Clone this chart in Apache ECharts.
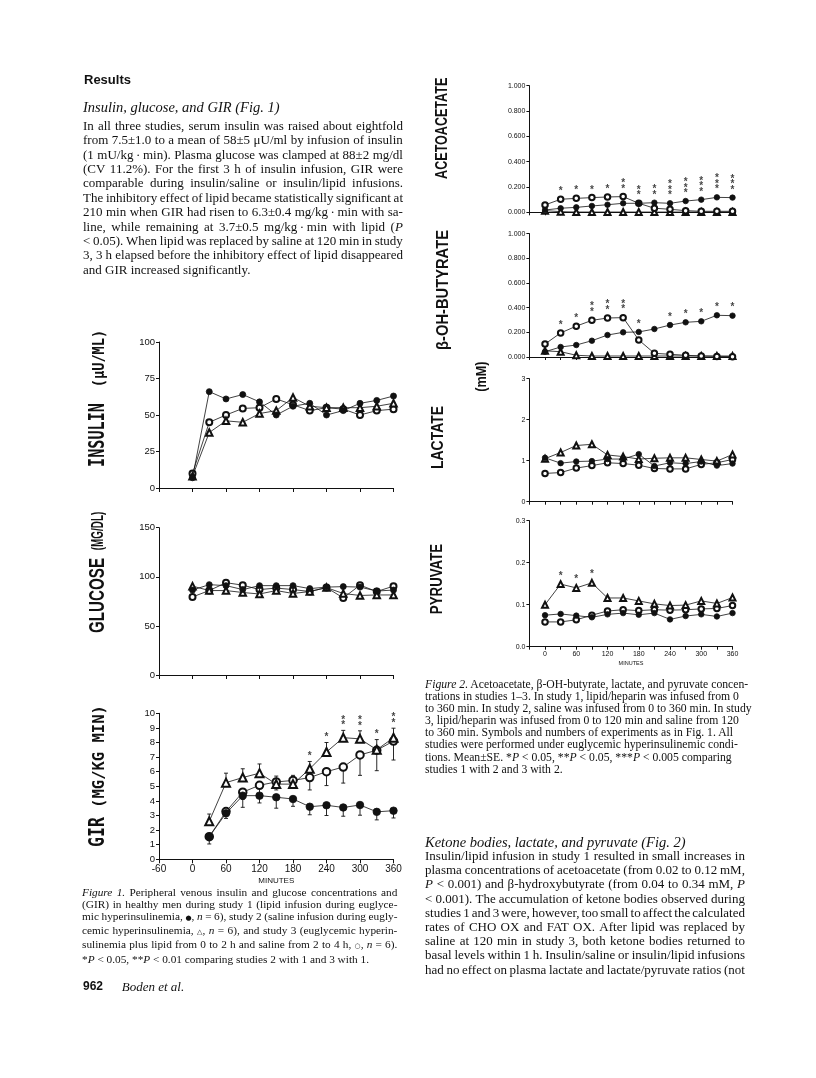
<!DOCTYPE html>
<html>
<head>
<meta charset="utf-8">
<script src="https://cdn.jsdelivr.net/npm/echarts@6/dist/echarts.min.js"></script>
<style>
  html, body { margin: 0; padding: 0; background: #fff; }
  body { width: 816px; height: 1078px; position: relative; overflow: hidden; }
  #chart { position: absolute; left: 0; top: 0; width: 816px; height: 1078px; }
  .blk { position: absolute; font-family: "Liberation Serif", "Times New Roman", serif; color: #111; }
  .ln { display: flex; justify-content: space-between; white-space: nowrap; }
  .ln.rag { display: block; }
  sym { font-family: "DejaVu Sans", sans-serif; font-size: 7px; }
</style>
</head>
<body>
<div id="chart"></div>

<div class="blk" id="results" style="left:84px;top:72px;font:bold 13px 'Liberation Sans',Arial,sans-serif;line-height:15px;">Results</div>
<div class="blk" id="h1" style="left:83px;top:99px;font-size:14.5px;font-style:italic;line-height:16px;">Insulin, glucose, and GIR (Fig. 1)</div>
<div class="blk" id="p1" style="left:83px;top:118.8px;width:320px;font-size:13px;line-height:14.4px;"></div>
<div class="blk" id="cap1" style="left:82px;top:885.6px;width:315.5px;font-size:11.3px;line-height:12.2px;"></div>
<div class="blk" style="left:83px;top:979px;font:bold 12px 'Liberation Sans',Arial,sans-serif;line-height:15px;">962</div>
<div class="blk" style="left:121.7px;top:979px;font-size:13px;font-style:italic;line-height:15px;">Boden et al.</div>

<div class="blk" id="cap2" style="left:425px;top:679px;width:340px;font-size:11.7px;line-height:12.1px;"></div>
<div class="blk" id="h2" style="left:425px;top:834.3px;font-size:14.5px;font-style:italic;line-height:16px;">Ketone bodies, lactate, and pyruvate (Fig. 2)</div>
<div class="blk" id="p2" style="left:425px;top:848.9px;width:320px;font-size:13px;line-height:14.2px;"></div>

<script>
// ---- Figure 1 data (study 1 = lipid ●, study 2 = saline △, study 3 = lipid then saline ○)
const fig1Times = [0, 30, 60, 90, 120, 150, 180, 210, 240, 270, 300, 330, 360];
const insulinLipid  = [7, 66, 61, 64, 59, 50, 56, 58, 50, 53, 58, 60, 63];
const insulinSaline = [8, 38, 46, 45, 51, 53, 62, 56, 55, 55, 55, 56, 58];
const insulinMixed  = [10, 45, 50, 54.5, 55, 61, 57, 53, 55, 54, 50, 53, 54];

const glucoseLipid  = [86.5, 92, 91, 87, 91, 91, 91, 88, 89.5, 90, 89.5, 85.5, 86.5];
const glucoseSaline = [90.5, 86, 86, 84, 82.5, 86, 83, 85, 89, 83, 81, 81.5, 81.5];
const glucoseMixed  = [79.5, 86, 94, 91.5, 87, 88.5, 87, 85, 89, 78.5, 91.5, 85, 90.5];

const girTimes  = [30, 60, 90, 120, 150, 180, 210, 240, 270, 300, 330, 360];
const girLipid  = [1.55, 3.15, 4.36, 4.36, 4.25, 4.13, 3.6, 3.7, 3.55, 3.72, 3.25, 3.33];
const girSaline = [2.6, 5.25, 5.6, 5.9, 5.15, 5.15, 6.2, 7.35, 8.33, 8.25, 7.5, 8.33];
const girMixed  = [1.55, 3.27, 4.6, 5.07, 5.3, 5.4, 5.6, 6.0, 6.32, 7.15, 7.47, 8.1];
const girLipidSE  = [0.5, 0.35, 0.8, 0.5, 0.75, 0.5, 0.55, 0.7, 0.6, 0.7, 0.55, 0.5];
const girSalineSE = [0.5, 0.65, 0.6, 0.63, 0.55, 0.6, 0.5, 0.65, 0.5, 0.55, 0.7, 0.65];
const girMixedSE  = [0, 0.3, 0.5, 0.6, 0.55, 0.5, 0.85, 0.95, 1.1, 1.4, 1.4, 1.3];
const girStars    = [0, 0, 0, 0, 0, 0, 1, 1, 2, 2, 1, 2];

const fig1Ticks = { insulin: [0, 100, 25], glucose: [0, 150, 50], gir: [0, 10, 1] };

// ---- Figure 2 data (mM)
const fig2Times = [0, 30, 60, 90, 120, 150, 180, 210, 240, 270, 300, 330, 360];
const acacLipid  = [0.018, 0.032, 0.039, 0.05, 0.06, 0.071, 0.071, 0.076, 0.071, 0.089, 0.1, 0.118, 0.116];
const acacSaline = [0.013, 0.005, 0.002, 0.002, 0.002, 0.002, 0.002, 0.002, 0.002, 0.002, 0.002, 0.002, 0.002];
const acacMixed  = [0.058, 0.103, 0.11, 0.116, 0.121, 0.124, 0.071, 0.032, 0.024, 0.013, 0.008, 0.008, 0.008];
const acacStars  = [0, 1, 1, 1, 1, 2, 2, 2, 3, 3, 3, 3, 3];

const bohbLipid  = [0.043, 0.081, 0.097, 0.132, 0.178, 0.2, 0.203, 0.227, 0.259, 0.281, 0.289, 0.338, 0.335];
const bohbSaline = [0.05, 0.043, 0.014, 0.008, 0.008, 0.008, 0.008, 0.008, 0.008, 0.008, 0.008, 0.008, 0.008];
const bohbMixed  = [0.105, 0.195, 0.25, 0.297, 0.316, 0.319, 0.138, 0.03, 0.022, 0.014, 0.008, 0.005, 0.003];
const bohbStars  = [0, 1, 1, 2, 2, 2, 1, 0, 1, 1, 1, 1, 1];

const lactateLipid  = [1.07, 0.94, 0.98, 0.99, 1.04, 1.04, 1.16, 0.87, 0.95, 0.93, 0.98, 0.88, 0.93];
const lactateSaline = [1.05, 1.2, 1.37, 1.4, 1.14, 1.1, 1.04, 1.06, 1.07, 1.07, 1.03, 0.99, 1.15];
const lactateMixed  = [0.69, 0.71, 0.82, 0.88, 0.95, 0.93, 0.89, 0.81, 0.8, 0.8, 0.91, 0.95, 1.03];

const pyruvateLipid  = [0.075, 0.078, 0.074, 0.07, 0.077, 0.08, 0.076, 0.08, 0.065, 0.073, 0.077, 0.072, 0.08];
const pyruvateSaline = [0.1, 0.149, 0.14, 0.152, 0.116, 0.116, 0.109, 0.102, 0.098, 0.099, 0.109, 0.103, 0.117];
const pyruvateMixed  = [0.059, 0.059, 0.064, 0.075, 0.085, 0.088, 0.086, 0.088, 0.087, 0.088, 0.09, 0.091, 0.098];
const pyruvateStars  = [0, 1, 1, 1, 0, 0, 0, 0, 0, 0, 0, 0, 0];

// ---- page text
const p1Lines = [
  'In all three studies, serum insulin was raised about eightfold',
  'from 7.5±1.0 to a mean of 58±5 μU/ml by infusion of insulin',
  '(1 mU/kg&thinsp;·&thinsp;min). Plasma glucose was clamped at 88±2 mg/dl',
  '(CV 11.2%). For the first 3 h of insulin infusion, GIR were',
  'comparable during insulin/saline or insulin/lipid infusions.',
  'The inhibitory effect of lipid became statistically significant at',
  '210 min when GIR had risen to 6.3±0.4 mg/kg&thinsp;·&thinsp;min with sa-',
  'line, while remaining at 3.7±0.5 mg/kg&thinsp;·&thinsp;min with lipid (<i>P</i>',
  '&lt; 0.05). When lipid was replaced by saline at 120 min in study',
  '3, 3 h elapsed before the inhibitory effect of lipid disappeared',
  'and GIR increased significantly.'
];
const cap1Lines = [
  '<i>Figure</i> <i>1.</i> Peripheral venous insulin and glucose concentrations and',
  '(GIR) in healthy men during study 1 (lipid infusion during euglyce-',
  'mic hyperinsulinemia, <sym>●</sym>, <i>n</i> = 6), study 2 (saline infusion during eugly-',
  'cemic hyperinsulinemia, <sym>△</sym>, <i>n</i> = 6), and study 3 (euglycemic hyperin-',
  'sulinemia plus lipid from 0 to 2 h and saline from 2 to 4 h, <sym>○</sym>, <i>n</i> = 6).',
  '*<i>P</i> &lt; 0.05, **<i>P</i> &lt; 0.01 comparing studies 2 with 1 and 3 with 1.'
];
const cap2Lines = [
  '<i>Figure 2.</i> Acetoacetate, β-OH-butyrate, lactate, and pyruvate concen-',
  'trations in studies 1–3. In study 1, lipid/heparin was infused from 0',
  'to 360 min. In study 2, saline was infused from 0 to 360 min. In study',
  '3, lipid/heparin was infused from 0 to 120 min and saline from 120',
  'to 360 min. Symbols and numbers of experiments as in Fig. 1. All',
  'studies were performed under euglycemic hyperinsulinemic condi-',
  'tions. Mean±SE. *<i>P</i> &lt; 0.05, **<i>P</i> &lt; 0.05, ***<i>P</i> &lt; 0.005 comparing',
  'studies 1 with 2 and 3 with 2.'
];
const p2Lines = [
  'Insulin/lipid infusion in study 1 resulted in small increases in',
  'plasma concentrations of acetoacetate (from 0.02 to 0.12 mM,',
  '<i>P</i> &lt; 0.001) and β-hydroxybutyrate (from 0.04 to 0.34 mM, <i>P</i>',
  '&lt; 0.001). The accumulation of ketone bodies observed during',
  'studies 1 and 3 were, however, too small to affect the calculated',
  'rates of CHO OX and FAT OX. After lipid was replaced by',
  'saline at 120 min in study 3, both ketone bodies returned to',
  'basal levels within 1 h. Insulin/saline or insulin/lipid infusions',
  'had no effect on plasma lactate and lactate/pyruvate ratios (not'
];

// justified lines: words spread across the full width, ragged ones left as is
function fillLines(id, lines, raggedFrom) {
  const box = document.getElementById(id);
  lines.forEach((ln, i) => {
    const d = document.createElement('div');
    if (i >= raggedFrom) {
      d.className = 'ln rag';
      d.innerHTML = ln;
    } else {
      d.className = 'ln';
      d.innerHTML = ln.split(' ').map(w => '<span>' + w + '</span>').join('');
    }
    box.appendChild(d);
  });
}
fillLines('p1', p1Lines, p1Lines.length - 1);
fillLines('cap1', cap1Lines, cap1Lines.length - 1);
fillLines('cap2', cap2Lines, 0);
fillLines('p2', p2Lines, p2Lines.length);

// ---- chart
const INK = '#111';
const chart = echarts.init(document.getElementById('chart'));

function fig1X(gi, labels) {
  return {
    type: 'value', gridIndex: gi, min: -60, max: 360, interval: 60,
    axisLine: { show: true, onZero: false, lineStyle: { color: INK, width: 1 } },
    axisTick: { show: true, length: 4, lineStyle: { color: INK } },
    splitLine: { show: false },
    axisLabel: { show: labels, fontSize: 10, color: INK, margin: 5, fontFamily: 'Liberation Sans', showMinLabel: true, showMaxLabel: true },
    name: labels ? 'MINUTES' : '', nameLocation: 'middle', nameGap: 17,
    nameTextStyle: { fontSize: 8, color: INK, fontFamily: 'Liberation Sans' }
  };
}
function fig2X(gi, labels) {
  return {
    type: 'value', gridIndex: gi, min: -30, max: 360, interval: 30,
    axisLine: { show: true, onZero: false, lineStyle: { color: INK, width: 1 } },
    axisTick: { show: true, length: 3, lineStyle: { color: INK } },
    splitLine: { show: false },
    axisLabel: {
      show: labels, fontSize: 7, color: INK, margin: 4, fontFamily: 'Liberation Sans',
      formatter: v => (v >= 0 && v % 60 === 0) ? String(v) : ''
    },
    name: labels ? 'MINUTES' : '', nameLocation: 'middle', nameGap: 14,
    nameTextStyle: { fontSize: 5.5, color: INK, fontFamily: 'Liberation Sans' }
  };
}
function yAx(gi, ticks, fontSize, fmt) {
  return {
    type: 'value', gridIndex: gi, min: ticks[0], max: ticks[1], interval: ticks[2],
    axisLine: { show: true, onZero: false, lineStyle: { color: INK, width: 1 } },
    axisTick: { show: true, length: 3, lineStyle: { color: INK } },
    splitLine: { show: false },
    axisLabel: { fontSize, color: INK, margin: 4, fontFamily: 'Liberation Sans', formatter: fmt }
  };
}
function lineSeries(gi, times, vals, kind, size) {
  const symbol = { filled: 'circle', open: 'emptyCircle', tri: 'emptyTriangle' }[kind];
  return {
    type: 'line', xAxisIndex: gi, yAxisIndex: gi, silent: true,
    data: times.map((t, i) => [t, vals[i]]),
    symbol, symbolSize: kind === 'tri' ? size + 0.5 : size, showSymbol: true,
    lineStyle: { color: INK, width: 0.8 },
    itemStyle: { color: INK, borderColor: INK, borderWidth: 0.8 },
    z: kind === 'filled' ? 4 : 3
  };
}
function errSeries(gi, times, vals, se, dir) {
  return {
    type: 'custom', xAxisIndex: gi, yAxisIndex: gi, silent: true, z: 2,
    encode: { x: 0, y: 1 },
    data: times.map((t, i) => [t, vals[i], vals[i] + dir * se[i]]).filter(d => d[1] !== d[2]),
    renderItem: (params, api) => {
      const a = api.coord([api.value(0), api.value(1)]);
      const b = api.coord([api.value(0), api.value(2)]);
      const st = { stroke: INK, lineWidth: 0.9 };
      return {
        type: 'group', children: [
          { type: 'line', shape: { x1: a[0], y1: a[1], x2: b[0], y2: b[1] }, style: st },
          { type: 'line', shape: { x1: b[0] - 2, y1: b[1], x2: b[0] + 2, y2: b[1] }, style: st }
        ]
      };
    }
  };
}
function starSeries(gi, times, counts, levels) {
  const data = [];
  times.forEach((t, i) => { if (counts[i] > 0) data.push([t, levels[i], counts[i]]); });
  return {
    type: 'scatter', xAxisIndex: gi, yAxisIndex: gi, silent: true, z: 5,
    symbol: 'circle', symbolSize: 1, itemStyle: { color: 'rgba(0,0,0,0)' }, data,
    label: {
      show: true, position: 'top', distance: 0, fontSize: 10, fontWeight: 'bold', lineHeight: 5.5,
      color: INK, fontFamily: 'Liberation Sans',
      formatter: p => Array(p.value[2]).fill('*').join('\n')
    }
  };
}
const topOf = (arrs, pad) => arrs[0].map((_, i) => Math.max(...arrs.map(a => a[i])) + pad);

function vText(x, y, text, font, scale) {
  return {
    type: 'text', x, y, rotation: Math.PI / 2, scaleX: scale, silent: true,
    style: { text, font, fill: INK, align: 'center', verticalAlign: 'middle', textAlign: 'center', textVerticalAlign: 'middle' }
  };
}
const MONO = '"DejaVu Sans Mono", monospace';
const SANS = '"Liberation Sans", Arial, sans-serif';

const f3 = v => v.toFixed(3);

chart.setOption({
  animation: false,
  backgroundColor: '#fff',
  grid: [
    { left: 159, top: 342, width: 234.5, height: 146 },
    { left: 159, top: 527.7, width: 234.5, height: 147.3 },
    { left: 159, top: 713.3, width: 234.5, height: 146 },
    { left: 529.4, top: 85.7, width: 203.1, height: 126.6 },
    { left: 529.4, top: 233.6, width: 203.1, height: 123.4 },
    { left: 529.4, top: 378.7, width: 203.1, height: 123 },
    { left: 529.4, top: 520.7, width: 203.1, height: 126 }
  ].map(g => Object.assign(g, { containLabel: false, outerBoundsMode: 'none' })),
  xAxis: [fig1X(0, false), fig1X(1, false), fig1X(2, true),
          fig2X(3, false), fig2X(4, false), fig2X(5, false), fig2X(6, true)],
  yAxis: [
    yAx(0, fig1Ticks.insulin, 9.5),
    yAx(1, fig1Ticks.glucose, 9.5),
    yAx(2, fig1Ticks.gir, 9.5),
    yAx(3, [0, 1, 0.2], 7, f3),
    yAx(4, [0, 1, 0.2], 7, f3),
    yAx(5, [0, 3, 1], 7),
    yAx(6, [0, 0.3, 0.1], 7, v => v.toFixed(1))
  ],
  graphic: [
    vText(98, 435, 'INSULIN', 'bold 22px ' + MONO, 0.69),
    vText(99.5, 358.5, '(μU/ML)', 'bold 16px ' + MONO, 0.85),
    vText(98, 595.5, 'GLUCOSE', 'bold 22px ' + SANS, 0.69),
    vText(99, 531, '(MG/DL)', 'bold 16px ' + SANS, 0.62),
    vText(98, 832, 'GIR', 'bold 22px ' + MONO, 0.75),
    vText(99.5, 756.5, '(MG/KG MIN)', 'bold 16px ' + MONO, 0.97),
    vText(442.5, 128.3, 'ACETOACETATE', 'bold 16px ' + SANS, 0.785),
    vText(444, 290, 'β-OH-BUTYRATE', 'bold 16px ' + SANS, 0.92),
    vText(481.7, 376.7, '(mM)', 'bold 15px ' + SANS, 0.84),
    vText(439, 437.5, 'LACTATE', 'bold 16px ' + SANS, 0.87),
    vText(437.5, 579, 'PYRUVATE', 'bold 16px ' + SANS, 0.83)
  ],
  series: [
    lineSeries(0, fig1Times, insulinMixed, 'open', 6),
    lineSeries(0, fig1Times, insulinSaline, 'tri', 6),
    lineSeries(0, fig1Times, insulinLipid, 'filled', 6),

    lineSeries(1, fig1Times, glucoseMixed, 'open', 6),
    lineSeries(1, fig1Times, glucoseSaline, 'tri', 6),
    lineSeries(1, fig1Times, glucoseLipid, 'filled', 6),

    errSeries(2, girTimes, girSaline, girSalineSE, 1),
    errSeries(2, girTimes, girMixed, girMixedSE, -1),
    errSeries(2, girTimes, girLipid, girLipidSE, -1),
    lineSeries(2, girTimes, girMixed, 'open', 7.5),
    lineSeries(2, girTimes, girSaline, 'tri', 7.5),
    lineSeries(2, girTimes, girLipid, 'filled', 7.5),
    starSeries(2, girTimes, girStars, girSaline.map((v, i) => v + girSalineSE[i] + 0.12)),

    lineSeries(3, fig2Times, acacSaline, 'tri', 5.5),
    lineSeries(3, fig2Times, acacMixed, 'open', 5.5),
    lineSeries(3, fig2Times, acacLipid, 'filled', 5.5),
    starSeries(3, fig2Times, acacStars, topOf([acacLipid, acacMixed], 0.035)),

    lineSeries(4, fig2Times, bohbSaline, 'tri', 5.5),
    lineSeries(4, fig2Times, bohbMixed, 'open', 5.5),
    lineSeries(4, fig2Times, bohbLipid, 'filled', 5.5),
    starSeries(4, fig2Times, bohbStars, topOf([bohbLipid, bohbMixed], 0.04)),

    lineSeries(5, fig2Times, lactateMixed, 'open', 5.5),
    lineSeries(5, fig2Times, lactateSaline, 'tri', 5.5),
    lineSeries(5, fig2Times, lactateLipid, 'filled', 5.5),

    lineSeries(6, fig2Times, pyruvateMixed, 'open', 5.5),
    lineSeries(6, fig2Times, pyruvateSaline, 'tri', 5.5),
    lineSeries(6, fig2Times, pyruvateLipid, 'filled', 5.5),
    starSeries(6, fig2Times, pyruvateStars, pyruvateSaline.map(v => v + 0.012))
  ]
});
</script>
</body>
</html>
